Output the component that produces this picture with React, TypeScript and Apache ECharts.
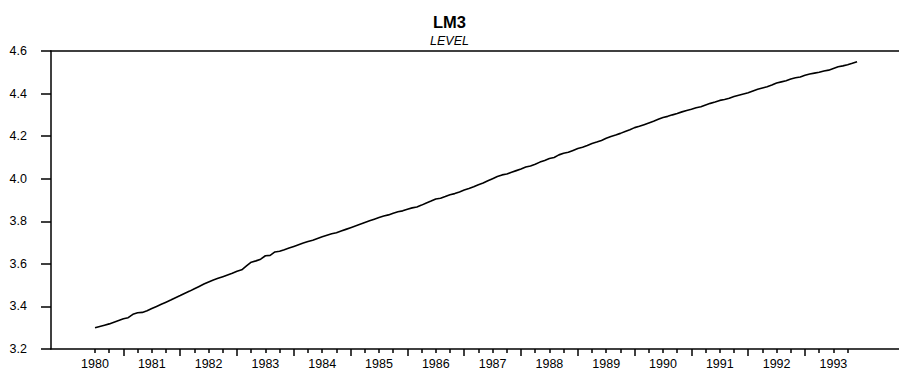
import React, { useEffect, useRef } from "react";
import * as echarts from "echarts";

const TITLE = "LM3";
const SUBTITLE = "LEVEL";
const START_YEAR = 1980;
const YEAR_LABELS = [1980, 1981, 1982, 1983, 1984, 1985, 1986, 1987, 1988, 1989, 1990, 1991, 1992, 1993];
const Y_TICKS = [3.2, 3.4, 3.6, 3.8, 4.0, 4.2, 4.4, 4.6];

// Monthly LM3 level, Jan 1980 .. Jun 1993
const v1980 = [3.300, 3.306, 3.312, 3.318, 3.326, 3.334, 3.342, 3.347, 3.363, 3.370, 3.372, 3.380];
const v1981 = [3.390, 3.400, 3.410, 3.420, 3.430, 3.441, 3.451, 3.462, 3.472, 3.483, 3.494, 3.505];
const v1982 = [3.515, 3.524, 3.532, 3.540, 3.548, 3.556, 3.565, 3.572, 3.590, 3.608, 3.614, 3.622];
const v1983 = [3.638, 3.640, 3.656, 3.659, 3.666, 3.674, 3.682, 3.690, 3.698, 3.705, 3.711, 3.719];
const v1984 = [3.727, 3.734, 3.741, 3.746, 3.754, 3.762, 3.770, 3.778, 3.786, 3.794, 3.802, 3.810];
const v1985 = [3.818, 3.825, 3.830, 3.838, 3.845, 3.849, 3.857, 3.863, 3.867, 3.876, 3.886, 3.895];
const v1986 = [3.905, 3.908, 3.916, 3.925, 3.930, 3.938, 3.947, 3.954, 3.962, 3.972, 3.980, 3.990];
const v1987 = [4.000, 4.010, 4.018, 4.022, 4.030, 4.038, 4.046, 4.055, 4.060, 4.068, 4.078, 4.086];
const v1988 = [4.095, 4.100, 4.112, 4.120, 4.124, 4.133, 4.142, 4.148, 4.156, 4.165, 4.172, 4.180];
const v1989 = [4.190, 4.198, 4.205, 4.213, 4.222, 4.230, 4.240, 4.246, 4.254, 4.262, 4.270, 4.279];
const v1990 = [4.288, 4.293, 4.300, 4.306, 4.314, 4.320, 4.326, 4.333, 4.338, 4.346, 4.354, 4.360];
const v1991 = [4.368, 4.372, 4.378, 4.386, 4.392, 4.398, 4.404, 4.412, 4.420, 4.426, 4.432, 4.440];
const v1992 = [4.450, 4.455, 4.460, 4.468, 4.474, 4.478, 4.486, 4.492, 4.496, 4.500, 4.506, 4.510];
const v1993 = [4.518, 4.526, 4.530, 4.535, 4.542, 4.550];

const MONTHLY = [
  ...v1980, ...v1981, ...v1982, ...v1983, ...v1984, ...v1985, ...v1986,
  ...v1987, ...v1988, ...v1989, ...v1990, ...v1991, ...v1992, ...v1993,
];

const FONT = "'Liberation Sans', Arial, Helvetica, sans-serif";

export default function App() {
  const ref = useRef<HTMLDivElement>(null);
  useEffect(() => {
    if (!ref.current) return;
    const chart = echarts.init(ref.current, null, { renderer: "svg" });
    const seriesData = MONTHLY.map((v, i) => [START_YEAR + i / 12, v]);
    const lastT = START_YEAR + (MONTHLY.length - 1) / 12;
    const quarterTicks: number[] = [];
    const midTicks: number[] = [];
    for (let y = START_YEAR; y <= lastT + 1e-9; y += 0.25) {
      const frac = Math.round((y - Math.floor(y)) * 4);
      if (frac === 2) midTicks.push(y);
      else quarterTicks.push(y);
    }
    const xMin = 1979.225;
    const xMax = 1994.155;
    chart.setOption({
      animation: false,
      backgroundColor: "#fff",
      textStyle: { fontFamily: FONT, color: "#000" },
      title: [
        {
          text: TITLE,
          left: "center",
          top: 8,
          textStyle: { fontFamily: FONT, fontWeight: "bold", fontSize: 16.5, color: "#000" },
        },
        {
          text: SUBTITLE,
          left: "center",
          top: 29,
          textStyle: { fontFamily: FONT, fontStyle: "italic", fontWeight: "normal", fontSize: 12.5, color: "#000" },
        },
      ],
      grid: { left: 51, right: 0, top: 51, bottom: 25, containLabel: false },
      xAxis: [
        {
          type: "value",
          min: xMin,
          max: xMax,
          position: "bottom",
          splitLine: { show: false },
          axisLine: { show: true, onZero: false, lineStyle: { color: "#000", width: 1.5 } },
          axisTick: { show: true, inside: false, length: 4, customValues: quarterTicks, lineStyle: { color: "#000", width: 1.5 } },
          axisLabel: {
            show: true,
            customValues: YEAR_LABELS,
            formatter: (v: number) => String(Math.round(v)),
            margin: 8,
            fontSize: 12.5,
            fontFamily: FONT,
            color: "#000",
          },
        },
        {
          type: "value",
          min: xMin,
          max: xMax,
          position: "bottom",
          splitLine: { show: false },
          axisLine: { show: false, onZero: false },
          axisTick: { show: true, inside: false, length: 7, customValues: midTicks, lineStyle: { color: "#000", width: 1.5 } },
          axisLabel: { show: false },
        },
        {
          type: "value",
          min: xMin,
          max: xMax,
          position: "top",
          splitLine: { show: false },
          axisLine: { show: true, onZero: false, lineStyle: { color: "#000", width: 1.5 } },
          axisTick: { show: false },
          axisLabel: { show: false },
        },
      ],
      yAxis: {
        type: "value",
        min: 3.2,
        max: 4.6,
        interval: 0.2,
        splitLine: { show: false },
        axisLine: { show: true, onZero: false, lineStyle: { color: "#000", width: 1.5 } },
        axisTick: { show: true, inside: false, length: 10, customValues: Y_TICKS, lineStyle: { color: "#000", width: 1.5 } },
        axisLabel: {
          customValues: Y_TICKS,
          formatter: (v: number) => v.toFixed(1),
          margin: 24,
          fontSize: 12.5,
          fontFamily: FONT,
          color: "#000",
        },
      },
      series: [
        {
          type: "line",
          xAxisIndex: 0,
          data: seriesData,
          showSymbol: false,
          symbol: "none",
          lineStyle: { color: "#000", width: 1.6 },
        },
      ],
    });
    return () => chart.dispose();
  }, []);
  return (
    <div
      ref={ref}
      style={{ position: "fixed", left: 0, top: 0, width: 899, height: 374, background: "#fff" }}
    />
  );
}
